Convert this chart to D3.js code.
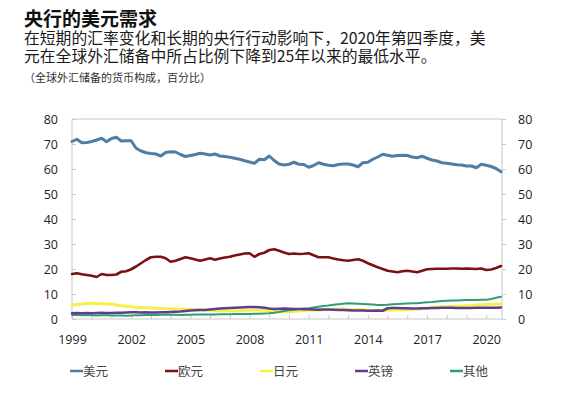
<!doctype html>
<html>
<head>
<meta charset="utf-8">
<title>央行的美元需求</title>
<script src="https://d3js.org/d3.v7.min.js"></script>
<style>
  body { margin: 0; background: #fff; }
  #wrap { position: relative; width: 578px; height: 409px; }
  #wrap svg { position: absolute; left: 0; top: 0; }
  .head { position: absolute; left: 24px; white-space: nowrap;
          font-family: "Noto Sans CJK SC", "Noto Sans", sans-serif; }
  text { font-family: "Open Sans", "Noto Sans CJK SC", sans-serif; }
  .cjk { font-family: "Noto Sans CJK SC", "Noto Sans", sans-serif; }
</style>
</head>
<body>
<div id="wrap">
  <svg id="chart" width="578" height="409"></svg>
</div>
<script>
// Quarterly shares, 1999Q1 .. 2020Q4 (percent of allocated reserves)
const usd = [
  71.0, 71.9, 70.5, 70.6,  71.0, 71.6, 72.3, 70.9,  72.2, 72.7, 71.2, 71.3,
  71.3, 68.3, 67.2, 66.5,  66.2, 66.0, 65.2, 66.6,  66.9, 66.8, 65.8, 65.0,
  65.4, 65.8, 66.3, 66.0,  65.6, 66.0, 65.2, 65.0,  64.7, 64.3, 63.9, 63.3,
  62.8, 62.3, 63.9, 63.7,  65.2, 63.4, 62.0, 61.6,  61.9, 62.7, 61.9, 61.8,
  60.7, 61.4, 62.5, 61.9,  61.5, 61.3, 61.8, 62.0,  62.0, 61.6, 60.9, 62.5,
  62.7, 63.9, 64.8, 65.9,  65.5, 65.1, 65.4, 65.5,  65.4, 64.8, 64.5, 65.1,
  64.3, 63.6, 63.2, 62.5,  62.3, 62.0, 61.7, 61.6,  61.2, 61.2, 60.5, 61.9,
  61.5, 61.0, 60.2, 58.9
];
const eur = [
  18.0, 18.3, 17.9, 17.6,  17.3, 16.8, 18.0, 17.6,  17.6, 17.8, 18.9, 19.1,
  19.9, 21.0, 22.3, 23.6,  24.7, 24.9, 24.9, 24.3,  22.9, 23.3, 24.0, 24.7,
  24.3, 23.8, 23.3, 23.8,  24.3, 23.7, 24.2, 24.6,  24.9, 25.4, 25.8, 26.2,
  26.3, 24.9, 26.0, 26.5,  27.6, 27.9, 27.3, 26.6,  26.0, 26.2, 26.0, 26.1,
  26.3, 25.5, 24.7, 24.7,  24.7, 24.2, 23.8, 23.5,  23.3, 23.6, 23.9, 23.3,
  22.3, 21.5, 20.7, 20.0,  19.3, 19.0, 18.7, 19.1,  19.3, 19.0, 18.7, 19.3,
  19.9, 20.0, 20.1, 20.1,  20.1, 20.2, 20.2, 20.1,  20.2, 20.1, 20.0, 20.2,
  19.6, 19.8, 20.4, 21.2
];
const jpy = [
  5.6, 5.8, 6.0, 6.2,  6.3, 6.2, 6.1, 6.0,  6.0, 5.6, 5.3, 5.1,
  4.9, 4.5, 4.6, 4.5,  4.4, 4.3, 4.2, 4.1,  4.1, 4.0, 3.9, 3.9,
  3.9, 3.8, 3.8, 3.6,  3.5, 3.4, 3.3, 3.3,  3.3, 3.2, 3.3, 3.4,
  3.5, 3.6, 3.6, 3.5,  3.3, 3.1, 3.0, 2.9,  2.9, 3.0, 3.2, 3.4,
  3.5, 3.5, 3.6, 3.6,  3.8, 3.9, 4.0, 4.0,  3.9, 3.8, 3.8, 3.7,
  3.6, 3.5, 3.5, 3.4,  3.5, 3.6, 3.7, 3.7,  3.8, 3.9, 4.0, 4.0,
  4.3, 4.6, 4.8, 4.9,  4.9, 5.0, 5.1, 5.2,  5.3, 5.4, 5.6, 5.7,
  5.8, 5.9, 6.0, 6.0
];
const gbp = [
  2.3, 2.4, 2.3, 2.4,  2.3, 2.4, 2.5, 2.4,  2.4, 2.5, 2.5, 2.6,
  2.7, 2.7, 2.6, 2.7,  2.6, 2.6, 2.7, 2.7,  2.8, 2.9, 3.0, 3.2,
  3.4, 3.5, 3.6, 3.6,  3.8, 4.0, 4.2, 4.3,  4.4, 4.5, 4.6, 4.7,
  4.8, 4.8, 4.7, 4.5,  4.2, 4.0, 4.1, 4.2,  4.1, 4.0, 4.0, 3.9,
  3.9, 3.8, 3.7, 3.8,  3.8, 3.7, 3.6, 3.6,  3.5, 3.4, 3.4, 3.4,
  3.3, 3.3, 3.4, 3.3,  4.3, 4.4, 4.4, 4.3,  4.3, 4.2, 4.2, 4.3,
  4.3, 4.4, 4.4, 4.5,  4.5, 4.5, 4.4, 4.4,  4.4, 4.4, 4.5, 4.5,
  4.5, 4.5, 4.5, 4.6
];
const other = [
  1.6, 1.6, 1.5, 1.5,  1.5, 1.4, 1.5, 1.5,  1.4, 1.4, 1.4, 1.3,
  1.4, 1.5, 1.5, 1.6,  1.6, 1.6, 1.7, 1.7,  1.7, 1.7, 1.6, 1.7,
  1.7, 1.8, 1.8, 1.8,  1.8, 1.8, 1.9, 1.9,  1.9, 2.0, 2.0, 2.0,
  2.0, 2.1, 2.1, 2.2,  2.3, 2.5, 2.8, 3.2,  3.5, 3.7, 4.0, 4.2,
  4.3, 4.6, 4.9, 5.2,  5.4, 5.7, 5.9, 6.1,  6.3, 6.2, 6.1, 6.0,
  5.9, 5.8, 5.6, 5.6,  5.7, 5.9, 6.0, 6.1,  6.2, 6.3, 6.3, 6.5,
  6.7, 6.8, 7.0, 7.2,  7.3, 7.4, 7.4, 7.5,  7.6, 7.6, 7.6, 7.7,
  7.7, 8.0, 8.5, 8.9
];

const seriesNames = ["美元", "欧元", "日元", "英镑", "其他"];
const seriesColors = ["#4e7ea6", "#7a1212", "#f4f24a", "#5e3c8f", "#2f9e72"];
const seriesWidths = [3, 2.6, 3, 2.6, 2];
const yTicks = [0, 10, 20, 30, 40, 50, 60, 70, 80];
const yearLabels = [1999, 2002, 2005, 2008, 2011, 2014, 2017, 2020];

const svg = d3.select("#chart");
const wrap = d3.select("#wrap");
const margin = {top: 119, right: 76, bottom: 90, left: 72};
const width = 578 - margin.left - margin.right,
      height = 409 - margin.top - margin.bottom;

// Heading block as HTML lines so the line boxes sit tight like the original
wrap.append("div").attr("class", "head")
  .style("top", "8px").style("font-size", "19px").style("line-height", "19px")
  .style("font-weight", "bold").style("color", "#111")
  .text("央行的美元需求");
wrap.append("div").attr("class", "head")
  .style("top", "29px").style("font-size", "15.8px").style("line-height", "18px")
  .style("color", "#1a1a1a")
  .html("在短期的汇率变化和长期的央行行动影响下，2020年第四季度，美<br>元在全球外汇储备中所占比例下降到25年以来的最低水平。");
wrap.append("div").attr("class", "head")
  .style("top", "71px").style("font-size", "11px").style("line-height", "12px")
  .style("color", "#333")
  .text("（全球外汇储备的货币构成，百分比）");

const g = svg.append("g")
  .attr("transform", `translate(${margin.left},${margin.top})`);

// quarter index -> fractional year
const quarters = usd.map((d, i) => 1999 + i / 4);

const x = d3.scaleLinear()
  .domain([1999, 2020.8])
  .range([0, width]);

const y = d3.scaleLinear()
  .domain([0, 80])
  .range([height, 0]);

// Frame top line
g.append("line")
  .attr("x1", 0).attr("x2", width).attr("y1", 0).attr("y2", 0)
  .attr("stroke", "#c8c8c8");

// Left axis
const yLeft = g.append("g")
  .call(d3.axisLeft(y).tickValues(yTicks).tickSize(-4).tickPadding(14));
// Right axis
const yRight = g.append("g")
  .attr("transform", `translate(${width},0)`)
  .call(d3.axisRight(y).tickValues(yTicks).tickSize(4).tickPadding(12));

// Bottom axis: tick every year, labels every 3 years
const years = d3.range(1999, 2021);
const xAxis = g.append("g")
  .attr("transform", `translate(0,${height})`)
  .call(d3.axisBottom(x).tickValues(years).tickSize(-4).tickPadding(16)
    .tickFormat(d => yearLabels.includes(d) ? d : ""));

[yLeft, yRight, xAxis].forEach(ax => {
  ax.select(".domain").attr("stroke", "#c8c8c8");
  ax.selectAll(".tick line").attr("stroke", "#c8c8c8");
  ax.selectAll(".tick text")
    .attr("font-size", "12.5px")
    .attr("fill", "#222")
    .style("font-family", "'Open Sans', sans-serif");
});
yLeft.select(".domain").attr("d", `M0,${height}V0`);
yRight.select(".domain").attr("d", `M0,${height}V0`);
xAxis.select(".domain").attr("d", `M0,0H${width}`);

// Lines
const allSeries = [usd, eur, jpy, gbp, other];
const line = d3.line()
  .x((d, i) => x(quarters[i]))
  .y(d => y(d));

// draw in an order so the lower series overlap like the original
const drawOrder = [2, 4, 3, 1, 0];
drawOrder.forEach(k => {
  g.append("path")
    .datum(allSeries[k])
    .attr("fill", "none")
    .attr("stroke", seriesColors[k])
    .attr("stroke-width", seriesWidths[k])
    .attr("stroke-linejoin", "round")
    .attr("stroke-linecap", "round")
    .attr("d", line);
});

// Legend
const legend = svg.append("g")
  .attr("transform", "translate(70,371)");
const item = legend.selectAll("g")
  .data(seriesNames)
  .join("g")
  .attr("transform", (d, i) => `translate(${i * 95},0)`);
item.append("line")
  .attr("x1", 0).attr("x2", 13).attr("y1", 0).attr("y2", 0)
  .attr("stroke", (d, i) => seriesColors[i])
  .attr("stroke-width", 2.5);
item.append("text").attr("class", "cjk")
  .attr("x", 13).attr("y", 4.5)
  .attr("font-size", "12.5px").attr("fill", "#444")
  .text(d => d);
</script>
</body>
</html>
